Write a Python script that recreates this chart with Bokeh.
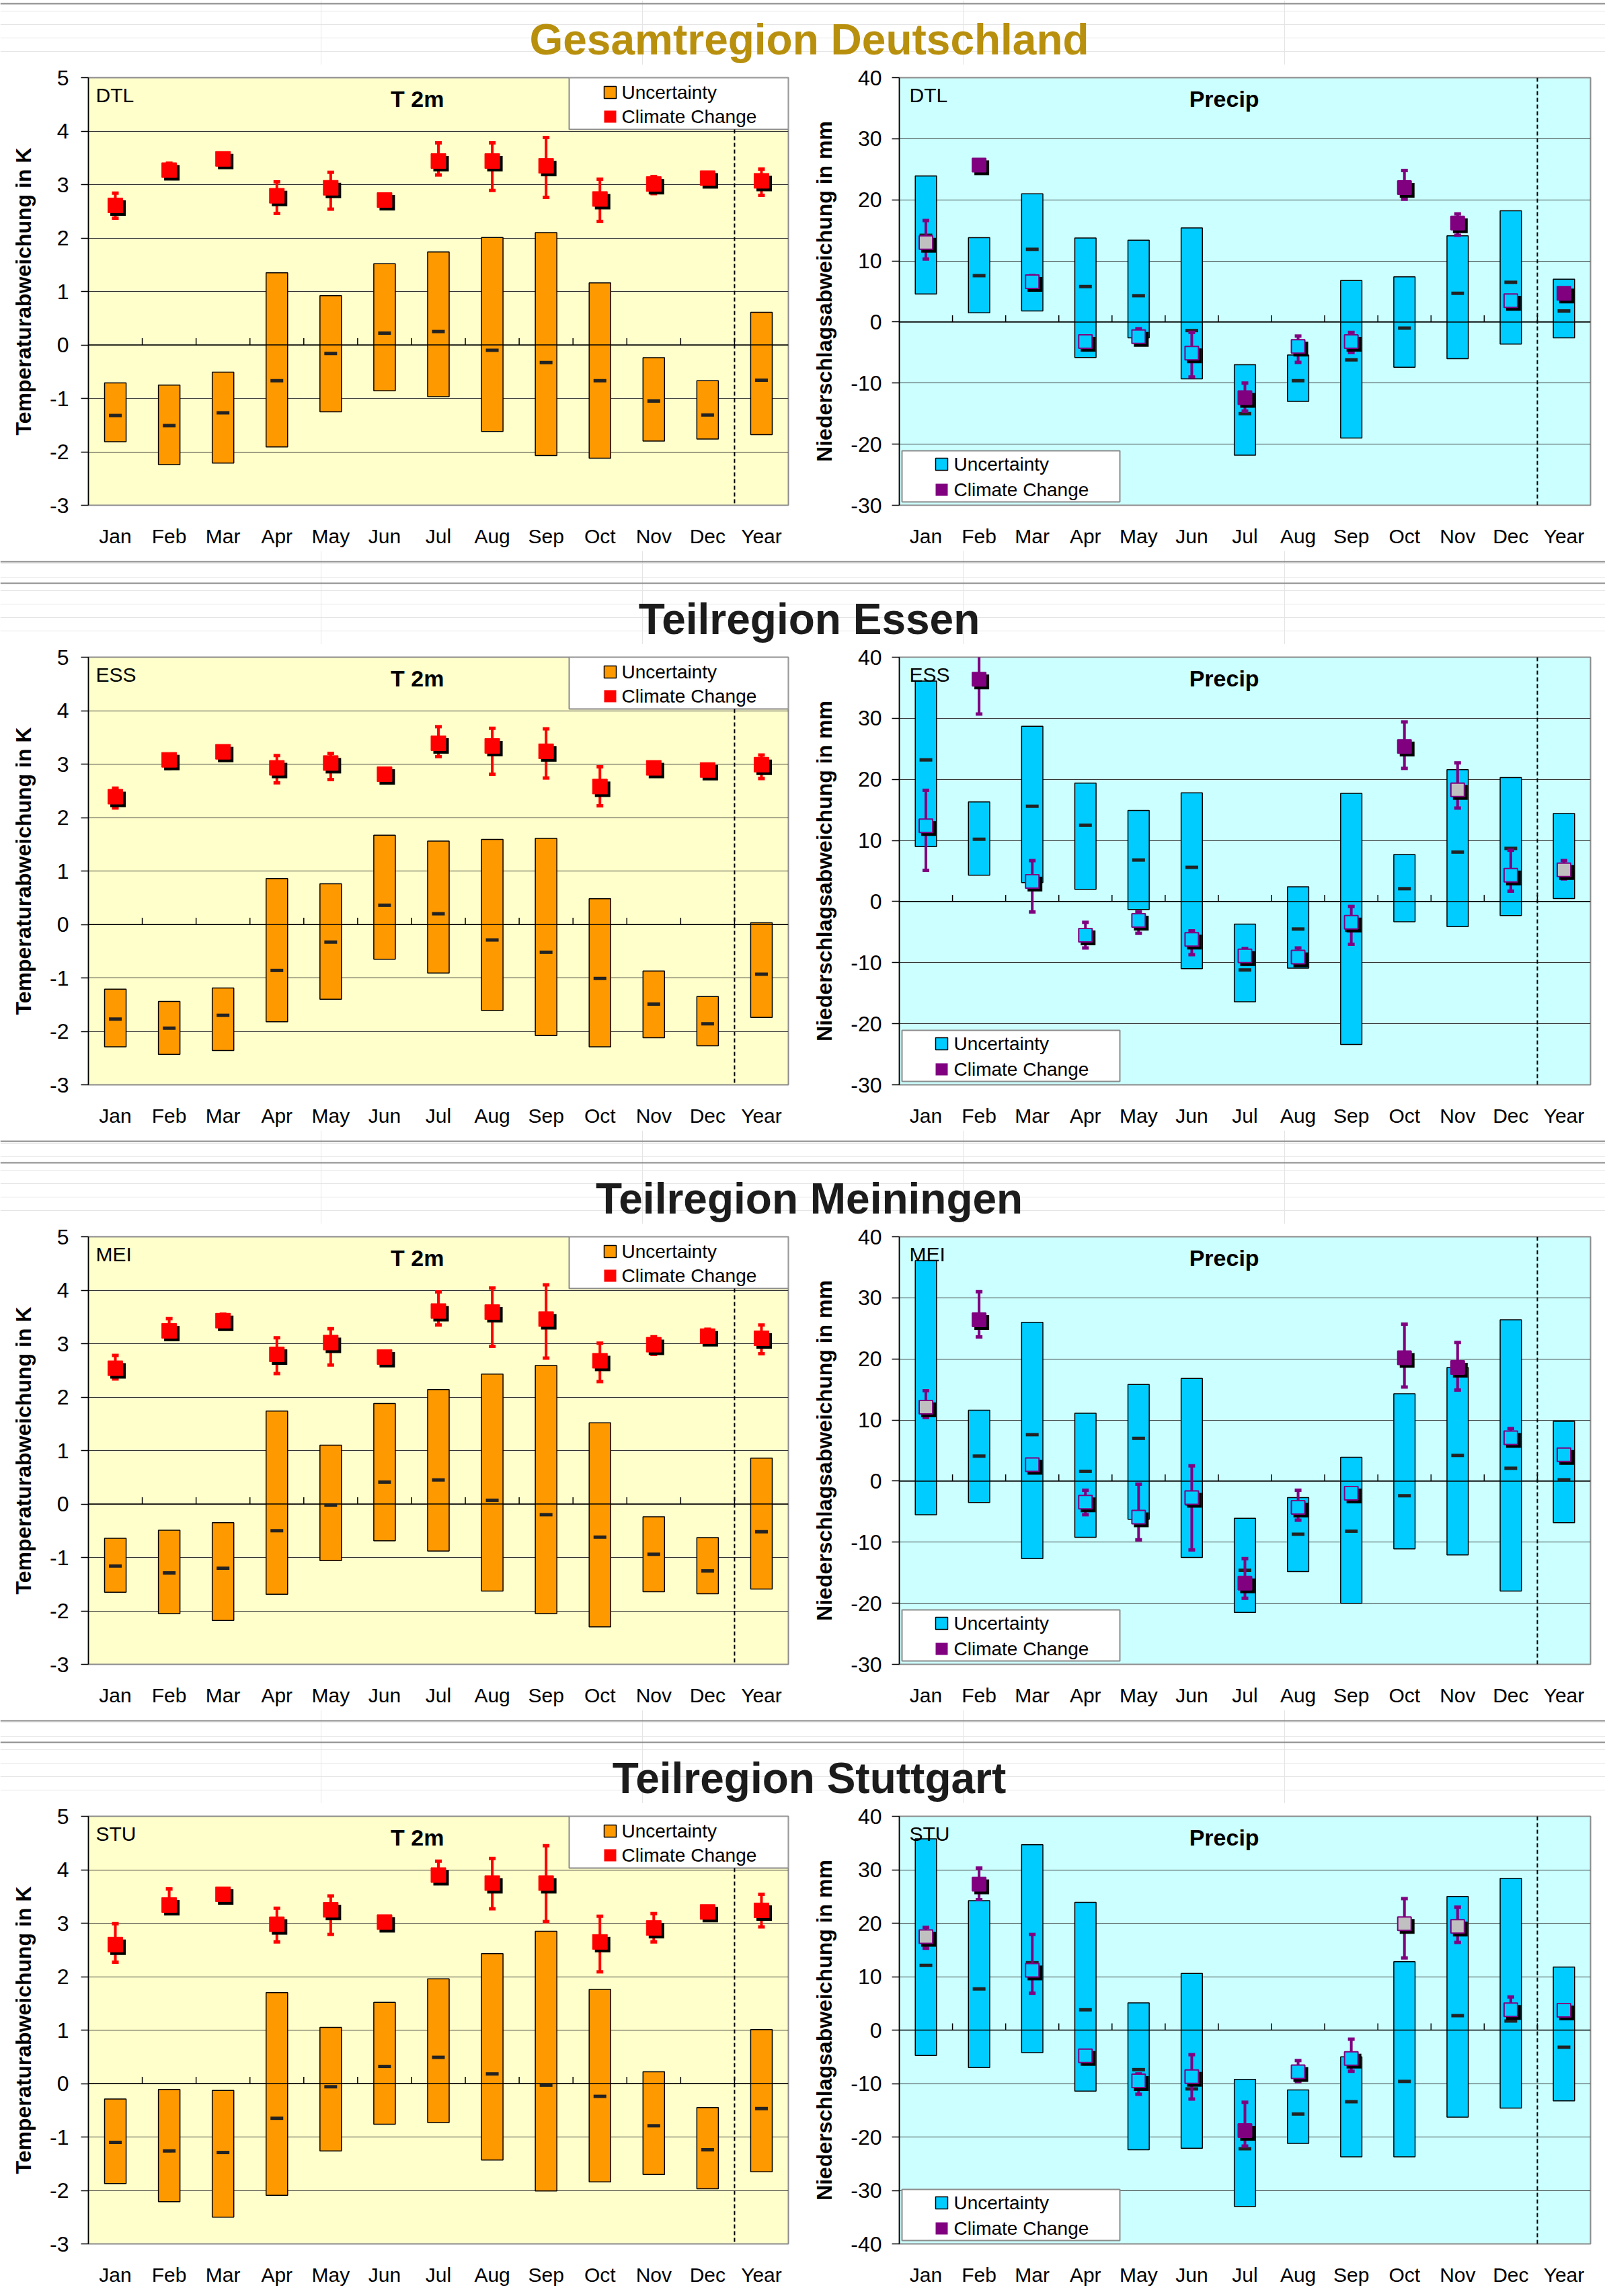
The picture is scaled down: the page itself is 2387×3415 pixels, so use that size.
import numpy as np
from bokeh.plotting import figure
from bokeh.models import FixedTicker, Arrow, Range1d
from bokeh.layouts import column, row
from bokeh.embed import file_html
from bokeh.resources import INLINE
from bokeh.core.properties import value

# ------------------------------------------------------------------ data
MONTHS = ["Jan", "Feb", "Mar", "Apr", "May", "Jun", "Jul", "Aug", "Sep", "Oct", "Nov", "Dec", "Year"]

# Gesamtregion Deutschland (DTL) - T 2m (K)
DTL_T_UNC_HI = [-0.71, -0.75, -0.51, 1.35, 0.92, 1.52, 1.74, 2.01, 2.10, 1.16, -0.24, -0.67, 0.61]
DTL_T_UNC_LO = [-1.81, -2.24, -2.21, -1.91, -1.25, -0.86, -0.97, -1.62, -2.07, -2.12, -1.80, -1.76, -1.68]
DTL_T_UNC_MED = [-1.32, -1.51, -1.27, -0.67, -0.16, 0.22, 0.25, -0.10, -0.33, -0.67, -1.05, -1.31, -0.66]
DTL_T_CC = [2.61, 3.27, 3.48, 2.79, 2.94, 2.71, 3.44, 3.44, 3.35, 2.73, 3.01, 3.12, 3.07]
DTL_T_CC_HI = [2.84, 3.40, 3.53, 3.05, 3.23, 2.80, 3.78, 3.78, 3.88, 3.10, 3.15, 3.20, 3.29]
DTL_T_CC_LO = [2.37, 3.20, 3.40, 2.46, 2.54, 2.64, 3.18, 2.89, 2.76, 2.31, 2.83, 3.02, 2.80]
# Gesamtregion Deutschland (DTL) - Precip (mm)
DTL_P_UNC_HI = [23.9, 13.8, 21.0, 13.75, 13.4, 15.4, -7.0, -5.4, 6.8, 7.4, 14.1, 18.2, 7.0]
DTL_P_UNC_LO = [4.6, 1.5, 1.8, -5.8, -2.6, -9.3, -21.8, -13.0, -19.0, -7.4, -6.0, -3.6, -2.6]
DTL_P_UNC_MED = [14.2, 7.6, 11.9, 5.8, 4.3, -1.4, -15.0, -9.6, -6.2, -1.0, 4.7, 6.5, 1.8]
DTL_P_CC = [13.0, 25.7, 6.6, -3.2, -2.4, -5.1, -12.4, -4.0, -3.2, 22.0, 16.2, 3.5, 4.7]
DTL_P_CC_HI = [16.6, 26.3, 7.6, -2.6, -1.1, -1.7, -10.0, -2.3, -1.7, 24.8, 17.7, 4.3, 5.4]
DTL_P_CC_LO = [10.3, 25.0, 5.4, -3.9, -3.6, -9.0, -14.6, -6.6, -5.0, 20.1, 14.2, 2.8, 4.0]
DTL_P_CC_CLASS = ["G", "S", "N", "N", "N", "N", "S", "N", "N", "S", "S", "N", "S"]

# Teilregion Essen (ESS)
ESS_T_UNC_HI = [-1.21, -1.44, -1.19, 0.86, 0.76, 1.67, 1.56, 1.59, 1.61, 0.48, -0.87, -1.35, 0.03]
ESS_T_UNC_LO = [-2.29, -2.43, -2.36, -1.82, -1.40, -0.65, -0.91, -1.61, -2.08, -2.29, -2.12, -2.27, -1.74]
ESS_T_UNC_MED = [-1.77, -1.94, -1.70, -0.86, -0.33, 0.36, 0.20, -0.29, -0.52, -1.01, -1.49, -1.86, -0.93]
ESS_T_CC = [2.39, 3.08, 3.23, 2.93, 3.02, 2.81, 3.39, 3.34, 3.24, 2.58, 2.93, 2.89, 2.99]
ESS_T_CC_HI = [2.55, 3.15, 3.30, 3.16, 3.20, 2.87, 3.70, 3.67, 3.66, 2.95, 3.03, 2.97, 3.17]
ESS_T_CC_LO = [2.18, 3.00, 3.15, 2.65, 2.71, 2.75, 3.14, 2.81, 2.74, 2.22, 2.83, 2.81, 2.73]
ESS_P_UNC_HI = [36.1, 16.3, 28.7, 19.4, 14.9, 17.8, -3.7, 2.4, 17.7, 7.7, 21.6, 20.3, 14.4]
ESS_P_UNC_LO = [9.0, 4.3, 3.1, 2.0, -1.3, -11.0, -16.4, -10.9, -23.4, -3.3, -4.1, -2.3, 0.5]
ESS_P_UNC_MED = [23.2, 10.2, 15.6, 12.5, 6.8, 5.6, -11.2, -4.5, -4.7, 2.1, 8.1, 8.7, 6.1]
ESS_P_CC = [12.4, 36.4, 3.3, -5.5, -3.1, -6.2, -8.9, -9.1, -3.4, 25.4, 18.3, 4.3, 5.2]
ESS_P_CC_HI = [18.2, 40.4, 6.7, -3.4, -1.7, -4.8, -7.7, -7.6, -0.8, 29.4, 22.7, 8.4, 6.7]
ESS_P_CC_LO = [5.1, 30.7, -1.7, -7.6, -5.2, -8.7, -10.2, -10.3, -7.0, 21.8, 15.3, 1.7, 3.7]
ESS_P_CC_CLASS = ["N", "S", "N", "N", "N", "N", "N", "N", "N", "S", "G", "N", "G"]

# Teilregion Meiningen (MEI)
MEI_T_UNC_HI = [-0.64, -0.49, -0.35, 1.74, 1.10, 1.88, 2.14, 2.43, 2.59, 1.52, -0.24, -0.63, 0.86]
MEI_T_UNC_LO = [-1.65, -2.05, -2.18, -1.69, -1.06, -0.69, -0.88, -1.63, -2.05, -2.30, -1.64, -1.68, -1.59]
MEI_T_UNC_MED = [-1.16, -1.29, -1.20, -0.50, -0.02, 0.41, 0.45, 0.07, -0.20, -0.62, -0.94, -1.25, -0.52]
MEI_T_CC = [2.54, 3.24, 3.43, 2.80, 3.02, 2.75, 3.61, 3.59, 3.46, 2.68, 2.98, 3.14, 3.10]
MEI_T_CC_HI = [2.78, 3.47, 3.55, 3.11, 3.28, 2.82, 3.97, 4.04, 4.10, 3.01, 3.13, 3.27, 3.35]
MEI_T_CC_LO = [2.34, 3.12, 3.30, 2.44, 2.60, 2.68, 3.35, 2.95, 2.73, 2.29, 2.80, 3.03, 2.81]
MEI_P_UNC_HI = [36.1, 11.6, 26.0, 11.1, 15.8, 16.8, -6.1, -2.7, 3.9, 14.3, 18.6, 26.4, 9.8]
MEI_P_UNC_LO = [-5.5, -3.5, -12.7, -9.2, -6.25, -12.5, -21.5, -14.8, -20.0, -11.1, -12.1, -18.0, -6.8]
MEI_P_UNC_MED = [12.8, 4.1, 7.6, 1.6, 7.0, -3.75, -14.6, -8.7, -8.2, -2.4, 4.2, 2.1, 0.2]
MEI_P_CC = [12.1, 26.4, 2.7, -3.45, -5.9, -2.7, -16.7, -4.3, -2.0, 20.2, 18.6, 7.1, 4.3]
MEI_P_CC_HI = [14.8, 31.0, 3.4, -1.5, -0.5, 2.5, -12.7, -1.5, -1.3, 25.7, 22.7, 8.6, 5.0]
MEI_P_CC_LO = [10.4, 23.6, 2.0, -5.5, -9.6, -11.25, -19.2, -6.4, -2.7, 15.4, 14.9, 6.0, 3.6]
MEI_P_CC_CLASS = ["G", "S", "N", "N", "N", "N", "S", "N", "N", "S", "S", "N", "N"]

# Teilregion Stuttgart (STU)
STU_T_UNC_HI = [-0.29, -0.11, -0.13, 1.70, 1.05, 1.52, 1.96, 2.43, 2.85, 1.76, 0.22, -0.45, 1.01]
STU_T_UNC_LO = [-1.87, -2.21, -2.50, -2.09, -1.26, -0.76, -0.73, -1.43, -2.01, -1.84, -1.70, -1.97, -1.65]
STU_T_UNC_MED = [-1.10, -1.26, -1.29, -0.65, -0.06, 0.32, 0.49, 0.18, -0.03, -0.24, -0.79, -1.24, -0.47]
STU_T_CC = [2.60, 3.34, 3.54, 2.98, 3.25, 3.02, 3.90, 3.75, 3.75, 2.65, 2.91, 3.21, 3.24]
STU_T_CC_HI = [2.99, 3.64, 3.62, 3.28, 3.51, 3.10, 4.16, 4.21, 4.45, 3.13, 3.18, 3.30, 3.54]
STU_T_CC_LO = [2.27, 3.19, 3.45, 2.65, 2.79, 2.95, 3.75, 3.27, 3.03, 2.09, 2.65, 3.10, 2.93]
STU_P_UNC_HI = [35.8, 24.2, 34.7, 23.9, 5.1, 10.6, -9.2, -11.2, -5.0, 12.8, 25.0, 28.4, 11.8]
STU_P_UNC_LO = [-4.75, -7.0, -4.2, -11.4, -22.4, -22.1, -33.0, -21.2, -23.7, -23.7, -16.3, -14.6, -13.25]
STU_P_UNC_MED = [12.1, 7.7, 12.6, 3.8, -7.4, -11.0, -22.2, -15.7, -13.4, -9.6, 2.7, 1.7, -3.2]
STU_P_CC = [17.5, 27.3, 11.2, -4.8, -9.5, -8.7, -18.8, -7.8, -5.3, 19.9, 19.4, 3.8, 3.7]
STU_P_CC_HI = [19.2, 30.3, 17.9, -4.1, -8.2, -4.6, -13.5, -5.7, -1.7, 24.6, 23.0, 6.2, 4.4]
STU_P_CC_LO = [15.3, 24.4, 6.9, -5.5, -12.0, -12.9, -21.7, -9.6, -7.7, 13.5, 16.4, 2.3, 3.0]
STU_P_CC_CLASS = ["G", "S", "N", "N", "N", "N", "S", "N", "N", "G", "G", "N", "N"]

REGION_TITLES = ["Gesamtregion Deutschland", "Teilregion Essen", "Teilregion Meiningen", "Teilregion Stuttgart"]
REGION_CODES = ["DTL", "ESS", "MEI", "STU"]
T_RANGE = (-3, 5)
P_RANGES = [(-30, 40), (-30, 40), (-30, 40), (-40, 40)]

# ------------------------------------------------------------------ style / layout
FONT = "Liberation Sans"
FRAME_H = 636
FIG_TOP = 19
FIG_BOTTOM = 68
PANEL_H = FIG_TOP + FRAME_H + FIG_BOTTOM
BLOCK = 862
FIRST_TITLE_H = 96
TITLE_H = BLOCK - PANEL_H
LEFT_GEOM = dict(width=1190, bl=131, br=18)
RIGHT_GEOM = dict(width=1197, bl=147, br=22)
TOT_W = LEFT_GEOM["width"] + RIGHT_GEOM["width"]
TITLE_COLORS = ["#B8900E", "#1C1C1C", "#1C1C1C", "#1C1C1C"]
SEP_COLOR = "#8c8c8c"

STYLE = {
    "T": dict(bg="#FFFFCC", bar="#FF9900", cc="#FF0000", step=1,
              ylabel="Temperaturabweichung in K", name="T 2m", msize=22, mlw=1,
              code_dx=11, tick_standoff=18),
    "P": dict(bg="#CCFFFF", bar="#00CCFF", cc="#800080", step=10,
              ylabel="Niederschlagsabweichung in mm", name="Precip", msize=20, mlw=2,
              code_dx=15, tick_standoff=15),
}
CLASS_FILL = {"S": "#800080", "N": "#00CCFF", "G": "#C0C0C0"}


def make_panel(kind, code, hi, lo, med, cc, cc_hi, cc_lo, cls, yr, geom):
    st = STYLE[kind]
    ymin, ymax = yr
    n = len(MONTHS)
    fw = geom["width"] - geom["bl"] - geom["br"]
    ppx = fw / n
    ppy = FRAME_H / (ymax - ymin)
    x = np.arange(n, dtype=float)

    p = figure(width=geom["width"], height=PANEL_H,
               x_range=Range1d(-0.5, n - 0.5), y_range=Range1d(ymin, ymax),
               output_backend="svg", toolbar_location=None,
               min_border_left=geom["bl"], min_border_right=geom["br"],
               min_border_top=FIG_TOP, min_border_bottom=FIG_BOTTOM)
    p.background_fill_color = st["bg"]
    p.border_fill_color = "white"
    p.outline_line_color = "#8c8c8c"
    p.outline_line_width = 2

    ticks = list(range(ymin, ymax + 1, st["step"]))
    yax = p.yaxis[0]
    yax.ticker = FixedTicker(ticks=ticks)
    yax.major_label_overrides = {t: str(t) for t in ticks}
    yax.axis_line_color = "black"
    yax.axis_line_width = 1.5
    yax.major_tick_out = 11
    yax.major_tick_in = 0
    yax.major_tick_line_width = 1.5
    yax.minor_tick_out = 0
    yax.minor_tick_in = 0
    yax.major_label_text_font = FONT
    yax.major_label_text_font_size = "32px"
    yax.major_label_text_color = "black"
    yax.major_label_standoff = st["tick_standoff"]
    yax.axis_label = st["ylabel"]
    yax.axis_label_text_font = FONT
    yax.axis_label_text_font_size = "32px"
    yax.axis_label_text_font_style = "bold"
    yax.axis_label_text_color = "black"
    yax.axis_label_standoff = 18

    xax = p.xaxis[0]
    xax.ticker = FixedTicker(ticks=list(range(n)))
    xax.major_label_overrides = {i: m for i, m in enumerate(MONTHS)}
    xax.axis_line_color = None
    xax.major_tick_out = 0
    xax.major_tick_in = 0
    xax.minor_tick_out = 0
    xax.minor_tick_in = 0
    xax.major_label_text_font = FONT
    xax.major_label_text_font_size = "30px"
    xax.major_label_text_color = "black"
    xax.major_label_standoff = 29

    p.ygrid[0].ticker = FixedTicker(ticks=ticks[1:-1])
    p.ygrid.grid_line_color = "#333333"
    p.ygrid.grid_line_width = 1.2
    p.xgrid.visible = False

    # uncertainty bars
    p.vbar(x=x, width=0.4, top=hi, bottom=lo, fill_color=st["bar"],
           line_color="black", line_width=1.5)
    # zero axis line with category ticks
    p.segment(x0=[-0.5], x1=[n - 0.5], y0=[0], y1=[0], line_color="black", line_width=1.5)
    bx = x[:-1] + 0.5
    p.segment(x0=bx, x1=bx, y0=np.zeros_like(bx), y1=np.full_like(bx, 10 / ppy),
              line_color="black", line_width=1.5)
    # median dashes
    p.rect(x=x, y=med, width=19, height=5, width_units="screen", height_units="screen",
           fill_color="#222222", line_color=None)
    # climate change error bars
    p.segment(x0=x, x1=x, y0=cc_lo, y1=cc_hi, line_color=st["cc"], line_width=4)
    p.rect(x=np.r_[x, x], y=np.r_[cc_hi, cc_lo], width=10, height=5,
           width_units="screen", height_units="screen", fill_color=st["cc"], line_color=None)
    # shadow + marker
    ccv = np.asarray(cc, dtype=float)
    p.scatter(x=x + 4 / ppx, y=ccv - 4 / ppy, marker="square", size=st["msize"] + st["mlw"],
              fill_color="black", line_color=None)
    fills = [st["cc"] if kind == "T" else CLASS_FILL[c] for c in cls]
    p.scatter(x=x, y=ccv, marker="square", size=st["msize"], fill_color=fills,
              line_color=st["cc"], line_width=st["mlw"])

    # in-panel texts
    p.text(x=[-0.5], y=[ymax], text=[code], x_offset=st["code_dx"], y_offset=9,
           text_baseline="top", text_align="left", text_font=value(FONT),
           text_font_size="30px", text_color="black")
    p.text(x=[-0.5 + 0.47 * n], y=[ymax], text=[st["name"]], y_offset=12,
           text_baseline="top", text_align="center", text_font=value(FONT),
           text_font_size="34px", text_font_style="bold", text_color="black")

    # legend (box + swatches + labels)
    if kind == "T":
        bx0, bx1 = -0.5 + 715 / ppx, n - 0.5
        by0, by1 = ymax - 77 / ppy, ymax
        sx, tx = -0.5 + 776 / ppx, -0.5 + 793 / ppx
        sy = [ymax - 22 / ppy, ymax - 58 / ppy]
        dash_top = by0
    else:
        bx0, bx1 = -0.5 + 4 / ppx, -0.5 + 328 / ppx
        by0, by1 = ymin + 5 / ppy, ymin + 81 / ppy
        sx, tx = -0.5 + 63 / ppx, -0.5 + 81 / ppx
        sy = [ymin + 61 / ppy, ymin + 23 / ppy]
        dash_top = ymax
    p.quad(left=[bx0], right=[bx1], bottom=[by0], top=[by1], fill_color="white",
           line_color="#8c8c8c", line_width=2)
    p.rect(x=[sx], y=[sy[0]], width=18, height=18, width_units="screen", height_units="screen",
           fill_color=st["bar"], line_color="black", line_width=1.5)
    p.rect(x=[sx], y=[sy[1]], width=18, height=18, width_units="screen", height_units="screen",
           fill_color=st["cc"], line_color=None)
    p.text(x=[tx, tx], y=sy, text=["Uncertainty", "Climate Change"], text_baseline="middle",
           text_align="left", text_font=value(FONT), text_font_size="28px", text_color="black")

    # dashed separator before "Year"
    p.add_layout(Arrow(end=None, x_start=n - 1.5, y_start=dash_top, x_end=n - 1.5,
                       y_end=ymin - 58 / ppy, line_color="black", line_width=2,
                       line_dash="6 4"))
    return p


def make_title(text, color, first):
    h = FIRST_TITLE_H if first else TITLE_H
    t = figure(width=TOT_W, height=h, x_range=Range1d(0, 1), y_range=Range1d(0, h),
               x_axis_location=None, y_axis_location=None, output_backend="svg",
               toolbar_location=None, min_border=0)
    t.outline_line_color = None
    # title centre sits 38 px above the bottom of every title strip
    t.text(x=[0.504], y=[38], text=[text], text_align="center", text_baseline="middle",
           text_font=value(FONT), text_font_size="64px", text_font_style="bold", text_color=color)
    # separator lines: top of this block, and bottom of the previous block
    line_y = [91] if first else [91, 123]
    t.segment(x0=[0] * len(line_y), x1=[1] * len(line_y), y0=line_y, y1=line_y,
              line_color=SEP_COLOR, line_width=2)
    return t


T_DATA = [
    (DTL_T_UNC_HI, DTL_T_UNC_LO, DTL_T_UNC_MED, DTL_T_CC, DTL_T_CC_HI, DTL_T_CC_LO),
    (ESS_T_UNC_HI, ESS_T_UNC_LO, ESS_T_UNC_MED, ESS_T_CC, ESS_T_CC_HI, ESS_T_CC_LO),
    (MEI_T_UNC_HI, MEI_T_UNC_LO, MEI_T_UNC_MED, MEI_T_CC, MEI_T_CC_HI, MEI_T_CC_LO),
    (STU_T_UNC_HI, STU_T_UNC_LO, STU_T_UNC_MED, STU_T_CC, STU_T_CC_HI, STU_T_CC_LO),
]
P_DATA = [
    (DTL_P_UNC_HI, DTL_P_UNC_LO, DTL_P_UNC_MED, DTL_P_CC, DTL_P_CC_HI, DTL_P_CC_LO, DTL_P_CC_CLASS),
    (ESS_P_UNC_HI, ESS_P_UNC_LO, ESS_P_UNC_MED, ESS_P_CC, ESS_P_CC_HI, ESS_P_CC_LO, ESS_P_CC_CLASS),
    (MEI_P_UNC_HI, MEI_P_UNC_LO, MEI_P_UNC_MED, MEI_P_CC, MEI_P_CC_HI, MEI_P_CC_LO, MEI_P_CC_CLASS),
    (STU_P_UNC_HI, STU_P_UNC_LO, STU_P_UNC_MED, STU_P_CC, STU_P_CC_HI, STU_P_CC_LO, STU_P_CC_CLASS),
]

items = []
for i in range(4):
    items.append(make_title(REGION_TITLES[i], TITLE_COLORS[i], i == 0))
    th, tl, tm, tc, tch, tcl = T_DATA[i]
    left = make_panel("T", REGION_CODES[i], th, tl, tm, tc, tch, tcl, ["S"] * len(MONTHS),
                      T_RANGE, LEFT_GEOM)
    ph, pl, pm, pc, pch, pcl, pcls = P_DATA[i]
    right = make_panel("P", REGION_CODES[i], ph, pl, pm, pc, pch, pcl, pcls,
                       P_RANGES[i], RIGHT_GEOM)
    items.append(row(left, right))

layout = column(items)
open("out.html", "w").write(file_html(layout, INLINE))
